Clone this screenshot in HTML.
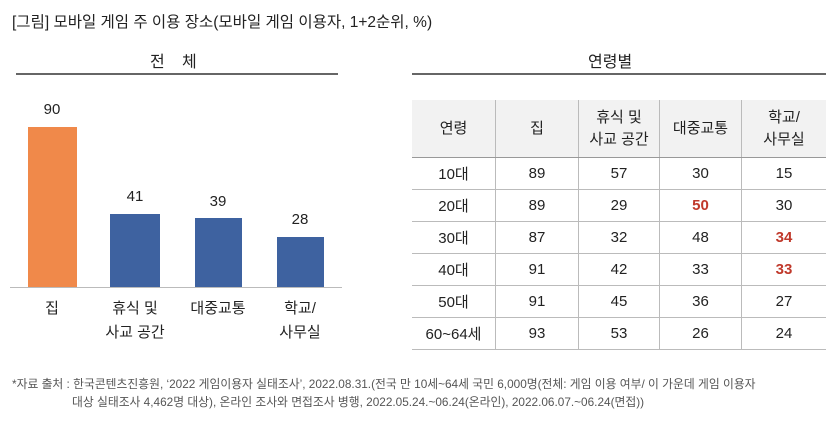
<!DOCTYPE html>
<html><head><meta charset="utf-8"><style>
body{margin:0;width:835px;height:421px;background:#fff;font-family:"Liberation Sans","Noto Sans CJK KR",sans-serif;color:#222;position:relative;overflow:hidden}
.a{position:absolute;white-space:nowrap}
.bar{position:absolute}
.v{position:absolute;width:60px;text-align:center;font-size:15px}
.lb{position:absolute;width:100px;text-align:center;font-size:15px;line-height:24px}
table{position:absolute;left:412px;top:100px;border-collapse:collapse;font-size:15px}
td{text-align:center;height:31px;padding:0;border-bottom:1px solid #bbb;border-left:1px solid #bbb}
td:first-child{border-left:none}
tr.h td{background:#f2f2f2;height:57px;line-height:22px;border-bottom:1px solid #999}
.r{color:#c0392b;font-weight:bold}
</style></head><body>
<div class="a" style="left:12px;top:10px;font-size:15.5px">[그림] 모바일 게임 주 이용 장소(모바일 게임 이용자, 1+2순위, %)</div>
<div class="a" style="left:150px;top:48px;font-size:16px;letter-spacing:1px">전&nbsp;&nbsp;&nbsp;체</div>
<div class="a" style="left:16px;top:73px;width:322px;height:2px;background:#666"></div>
<div class="a" style="left:588px;top:48px;font-size:16px">연령별</div>
<div class="a" style="left:412px;top:73px;width:414px;height:2px;background:#666"></div>

<div class="bar" style="left:28px;top:127px;width:49px;height:160px;background:#f0894a"></div>
<div class="bar" style="left:110px;top:214px;width:50px;height:73px;background:#3e62a0"></div>
<div class="bar" style="left:195px;top:218px;width:47px;height:69px;background:#3e62a0"></div>
<div class="bar" style="left:277px;top:237px;width:47px;height:50px;background:#3e62a0"></div>
<div class="a" style="left:10px;top:287px;width:332px;height:1px;background:#bbb"></div>
<div class="v" style="left:22px;top:101px">90</div>
<div class="v" style="left:105px;top:188px">41</div>
<div class="v" style="left:188px;top:193px">39</div>
<div class="v" style="left:270px;top:211px">28</div>
<div class="lb" style="left:2px;top:297px">집</div>
<div class="lb" style="left:85px;top:297px">휴식 및<br>사교 공간</div>
<div class="lb" style="left:168px;top:297px">대중교통</div>
<div class="lb" style="left:250px;top:297px">학교/<br>사무실</div>

<table>
<tr class="h"><td style="width:83px">연령</td><td style="width:82px">집</td><td style="width:80px">휴식 및<br>사교 공간</td><td style="width:81px">대중교통</td><td style="width:84px">학교/<br>사무실</td></tr>
<tr><td>10대</td><td>89</td><td>57</td><td>30</td><td>15</td></tr>
<tr><td>20대</td><td>89</td><td>29</td><td class="r">50</td><td>30</td></tr>
<tr><td>30대</td><td>87</td><td>32</td><td>48</td><td class="r">34</td></tr>
<tr><td>40대</td><td>91</td><td>42</td><td>33</td><td class="r">33</td></tr>
<tr><td>50대</td><td>91</td><td>45</td><td>36</td><td>27</td></tr>
<tr><td>60~64세</td><td>93</td><td>53</td><td>26</td><td>24</td></tr>
</table>

<div class="a" style="left:12px;top:375px;font-size:11.8px;color:#555">*자료 출처 : 한국콘텐츠진흥원, ‘2022 게임이용자 실태조사’, 2022.08.31.(전국 만 10세~64세 국민 6,000명(전체: 게임 이용 여부/ 이 가운데 게임 이용자</div>
<div class="a" style="left:72px;top:393px;font-size:11.8px;color:#555">대상 실태조사 4,462명 대상), 온라인 조사와 면접조사 병행, 2022.05.24.~06.24(온라인), 2022.06.07.~06.24(면접))</div>
</body></html>
